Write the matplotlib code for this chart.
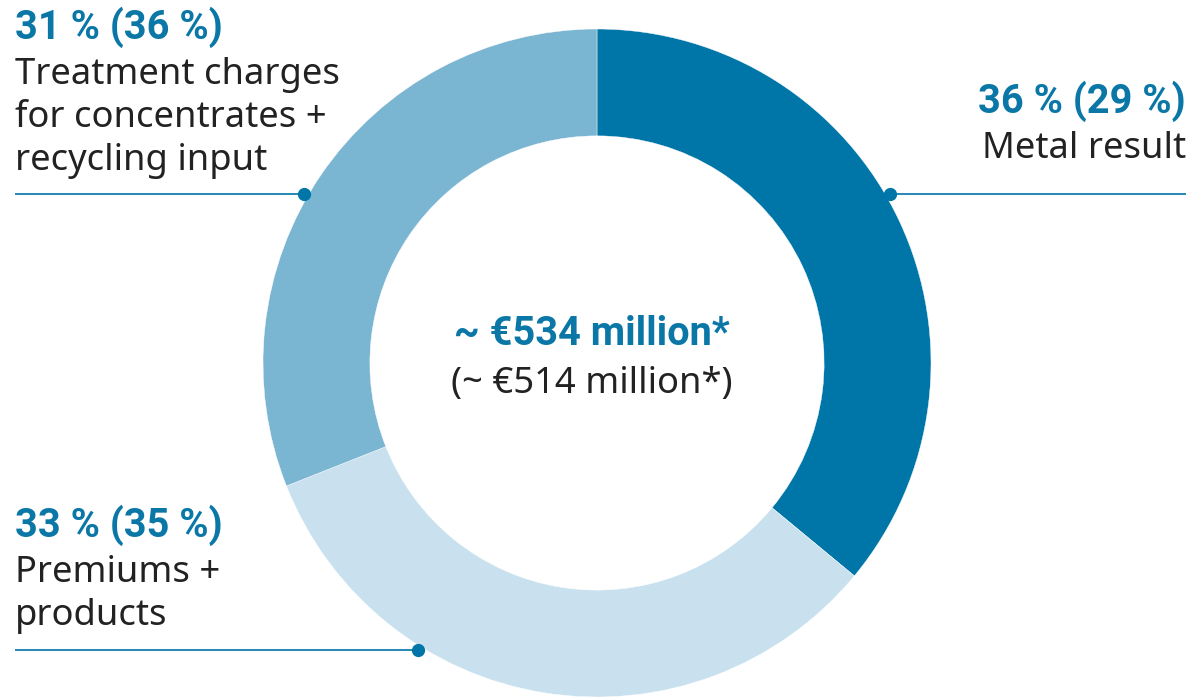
import numpy as np
import matplotlib
matplotlib.use("Agg")
import matplotlib.pyplot as plt

# Data
segments = ["Metal result", "Premiums +\nproducts", "Treatment charges\nfor concentrates +\nrecycling input"]
shares = [36, 33, 31]
shares_prev = [29, 35, 36]
total_now = 534
total_prev = 514

colors = ["#0076A8", "#C9E1EE", "#7AB5D2"]
blue = "#0A77A6"
dark = "#222222"

W, H = 1194, 699
fig = plt.figure(figsize=(W / 100, H / 100), dpi=100)

# donut, center (597, 363) px, radius 334 px
cx, cy, R = 597, 363, 334
ax = fig.add_axes([(cx - R) / W, (H - cy - R) / H, 2 * R / W, 2 * R / H])
ax.pie(shares, colors=colors, startangle=90, counterclock=False, radius=1,
       wedgeprops=dict(width=0.32, edgecolor="white", linewidth=0.3))
ax.set_xlim(-1, 1)
ax.set_ylim(-1, 1)
ax.set_aspect("equal")
ax.axis("off")

# overlay in pixel coords for labels and leader lines
ov = fig.add_axes([0, 0, 1, 1])
ov.set_xlim(0, W)
ov.set_ylim(H, 0)
ov.axis("off")

bold = dict(family=["Roboto", "DejaVu Sans"], weight="bold", color=blue, fontsize=28.6)
reg = dict(family=["Noto Sans", "DejaVu Sans"], weight="light", color=dark, fontsize=26.2)

# (dot angle in degrees, line end x)
leaders = [(30, 1186), (238, 15), (150, 15)]
for ang, xend in leaders:
    a = np.deg2rad(ang)
    dx = cx + (R + 4) * np.cos(a)
    dy = cy - (R + 4) * np.sin(a)
    ov.plot([dx, xend], [dy, dy], color="#0076A8", lw=1.2, solid_capstyle="butt")
    ov.plot(dx, dy, "o", color="#0076A8", ms=8.5)

# labels: (x, baseline of headline, ha)
label_pos = [(1186, 113, "right"), (15, 537, "left"), (15, 39, "left")]
for (x, yb, ha), name, s, p in zip(label_pos, segments, shares, shares_prev):
    ov.text(x, yb, f"{s} % ({p} %)", ha=ha, va="baseline", **bold)
    for i, line in enumerate(name.split("\n")):
        ov.text(x, yb + 45 + i * 43, line, ha=ha, va="baseline", **reg)

ov.text(592, 345, f"~ €{total_now} million*", ha="center", va="baseline", **bold)
ov.text(592, 393, f"(~ €{total_prev} million*)", ha="center", va="baseline", **reg)

fig.savefig("out.png", dpi=100)
